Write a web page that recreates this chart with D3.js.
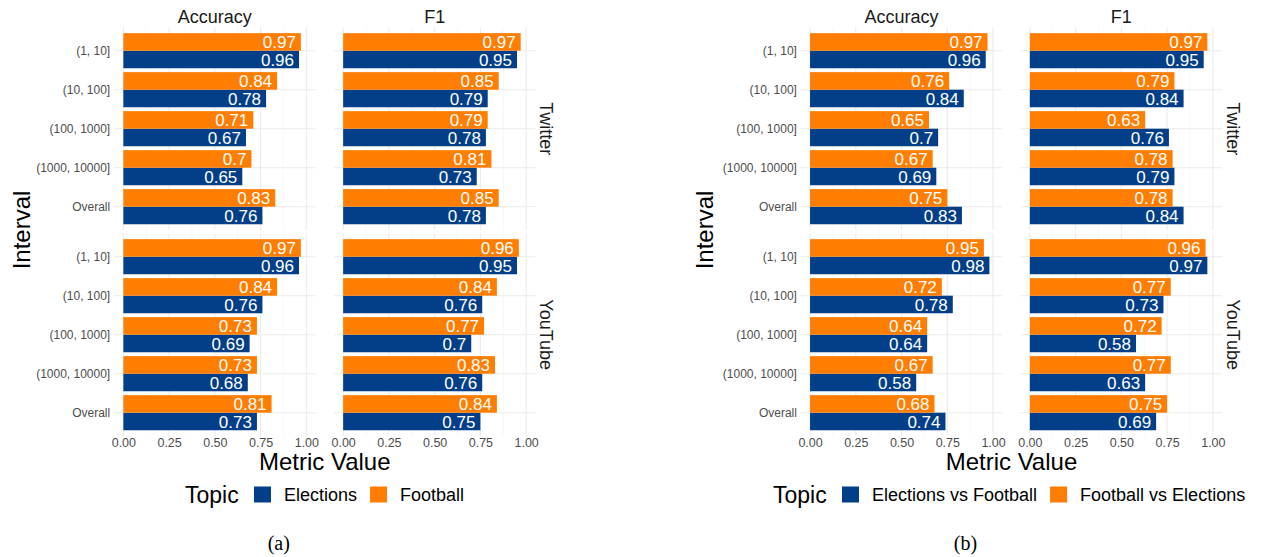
<!DOCTYPE html>
<html>
<head>
<meta charset="utf-8">
<script src="https://cdn.jsdelivr.net/npm/d3@7"></script>
<style>
  body { margin: 0; background: #fff; }
  text { font-family: "Liberation Sans", Arial, sans-serif; }
</style>
</head>
<body>
<div id="my_dataviz"></div>
<script>
// data
var intervals = ["(1, 10]", "(10, 100]", "(100, 1000]", "(1000, 10000]", "Overall"];
var metrics = ["Accuracy", "F1"];
var platforms = ["Twitter", "YouTube"];
var xTicks = [0, 0.25, 0.5, 0.75, 1];

// (a)
var topicsA = ["Elections", "Football"];
var a_twitter_acc_elections = [0.96, 0.78, 0.67, 0.65, 0.76];
var a_twitter_acc_football  = [0.97, 0.84, 0.71, 0.70, 0.83];
var a_twitter_f1_elections  = [0.95, 0.79, 0.78, 0.73, 0.78];
var a_twitter_f1_football   = [0.97, 0.85, 0.79, 0.81, 0.85];
var a_youtube_acc_elections = [0.96, 0.76, 0.69, 0.68, 0.73];
var a_youtube_acc_football  = [0.97, 0.84, 0.73, 0.73, 0.81];
var a_youtube_f1_elections  = [0.95, 0.76, 0.70, 0.76, 0.75];
var a_youtube_f1_football   = [0.96, 0.84, 0.77, 0.83, 0.84];

// (b)
var topicsB = ["Elections vs Football", "Football vs Elections"];
var b_twitter_acc_evf = [0.96, 0.84, 0.70, 0.69, 0.83];
var b_twitter_acc_fve = [0.97, 0.76, 0.65, 0.67, 0.75];
var b_twitter_f1_evf  = [0.95, 0.84, 0.76, 0.79, 0.84];
var b_twitter_f1_fve  = [0.97, 0.79, 0.63, 0.78, 0.78];
var b_youtube_acc_evf = [0.98, 0.78, 0.64, 0.58, 0.74];
var b_youtube_acc_fve = [0.95, 0.72, 0.64, 0.67, 0.68];
var b_youtube_f1_evf  = [0.97, 0.73, 0.58, 0.63, 0.69];
var b_youtube_f1_fve  = [0.96, 0.77, 0.72, 0.77, 0.75];

var blue = "#033f88", orange = "#ff7d00";
var W = 1263, H = 557;

var svg = d3.select("#my_dataviz").append("svg")
  .attr("width", W).attr("height", H);

// facet table: [platform][metric] -> [first topic values, second topic values]
var dataA = {
  Twitter: { Accuracy: [a_twitter_acc_elections, a_twitter_acc_football], F1: [a_twitter_f1_elections, a_twitter_f1_football] },
  YouTube: { Accuracy: [a_youtube_acc_elections, a_youtube_acc_football], F1: [a_youtube_f1_elections, a_youtube_f1_football] }
};
var dataB = {
  Twitter: { Accuracy: [b_twitter_acc_evf, b_twitter_acc_fve], F1: [b_twitter_f1_evf, b_twitter_f1_fve] },
  YouTube: { Accuracy: [b_youtube_acc_evf, b_youtube_acc_fve], F1: [b_youtube_f1_evf, b_youtube_f1_fve] }
};

drawFigure({ left: 114.2, topics: topicsA, data: dataA, ytitleX: 30, legendX: 185, caption: "(a)" });
drawFigure({ left: 800.9, topics: topicsB, data: dataB, ytitleX: 713, legendX: 773, caption: "(b)" });

function drawFigure(o) {
  var unit = 183;                  // px per 1.0
  var pw = unit * 1.1;             // panel width incl. 5% expand each side
  var gapX = 18.5;
  var step = 39;
  var ph = step * 5.2;
  var panelTops = { Twitter: 27.3, YouTube: 233.3 };
  var g = svg.append("g");

  metrics.forEach(function (m, mi) {
    var px = o.left + mi * (pw + gapX);
    var x = d3.scaleLinear().domain([-0.05, 1.05]).range([px, px + pw]);

    // strip top
    g.append("text")
      .attr("x", px + pw / 2).attr("y", 23)
      .attr("text-anchor", "middle")
      .style("font-size", "18px").style("fill", "#1a1a1a")
      .text(m);

    platforms.forEach(function (p, pi) {
      var top = panelTops[p];
      var y = d3.scaleBand().domain(intervals)
        .range([top + 0.1 * step, top + ph - 0.1 * step])
        .paddingInner(0.1).paddingOuter(0.05);
      // upper bar = second topic (orange), lower bar = first topic (blue)
      var yIn = d3.scaleBand().domain([o.topics[1], o.topics[0]]).range([0, y.bandwidth()]);

      // grid
      var minor = [0.125, 0.375, 0.625, 0.875];
      g.selectAll(null).data(minor).enter().append("line")
        .attr("x1", d => x(d)).attr("x2", d => x(d))
        .attr("y1", top).attr("y2", top + ph)
        .attr("stroke", "#f2f2f2").attr("stroke-width", 0.6);
      g.selectAll(null).data(xTicks).enter().append("line")
        .attr("x1", d => x(d)).attr("x2", d => x(d))
        .attr("y1", top).attr("y2", top + ph)
        .attr("stroke", "#ebebeb").attr("stroke-width", 1.1);
      g.selectAll(null).data(intervals).enter().append("line")
        .attr("x1", px).attr("x2", px + pw)
        .attr("y1", d => y(d) + y.bandwidth() / 2).attr("y2", d => y(d) + y.bandwidth() / 2)
        .attr("stroke", "#ebebeb").attr("stroke-width", 1.1);

      var vals = o.data[p][m];
      o.topics.forEach(function (t, ti) {
        var col = ti === 0 ? blue : orange;
        var rows = intervals.map(function (c, i) { return { c: c, v: vals[ti][i] }; });
        g.selectAll(null).data(rows).enter().append("rect")
          .attr("x", x(0))
          .attr("y", d => y(d.c) + yIn(t))
          .attr("width", d => x(d.v) - x(0))
          .attr("height", yIn.bandwidth())
          .attr("fill", col);
        g.selectAll(null).data(rows).enter().append("text")
          .attr("x", d => x(d.v) - 5)
          .attr("y", d => y(d.c) + yIn(t) + yIn.bandwidth() / 2)
          .attr("dy", "0.36em")
          .attr("text-anchor", "end")
          .style("font-size", "17px").style("fill", "#fff")
          .text(d => String(+d.v.toFixed(2)));
      });

      // y axis labels only on first column
      if (mi === 0) {
        var ya = g.append("g").attr("transform", "translate(" + px + ",0)")
          .call(d3.axisLeft(y).tickSize(0).tickPadding(4));
        ya.select(".domain").remove();
        ya.selectAll("text").style("font-size", "12px").style("fill", "#4d4d4d")
          .style("font-family", "Liberation Sans, Arial, sans-serif");
      }

      // strip right
      if (mi === 1) {
        g.append("text")
          .attr("transform", "translate(" + (px + pw + 5) + "," + (top + ph / 2) + ") rotate(90)")
          .attr("text-anchor", "middle")
          .style("font-size", "18px").style("fill", "#1a1a1a")
          .text(p);
      }

      // x axis on bottom row
      if (pi === 1) {
        var xa = g.append("g").attr("transform", "translate(0," + (top + ph) + ")")
          .call(d3.axisBottom(x).tickValues(xTicks).tickFormat(d3.format(".2f")).tickSize(0).tickPadding(2));
        xa.select(".domain").remove();
        xa.selectAll("text").style("font-size", "12.5px").style("fill", "#4d4d4d")
          .style("font-family", "Liberation Sans, Arial, sans-serif");
      }
    });
  });

  var mid = o.left + pw + gapX / 2;
  g.append("text").attr("x", mid).attr("y", 470)
    .attr("text-anchor", "middle").style("font-size", "24px").style("fill", "#000")
    .text("Metric Value");

  g.append("text")
    .attr("transform", "translate(" + o.ytitleX + "," + 230 + ") rotate(-90)")
    .attr("text-anchor", "middle").style("font-size", "24px").style("fill", "#000")
    .text("Interval");

  // legend
  var lg = g.append("g").attr("transform", "translate(" + o.legendX + ",494)");
  lg.append("text").attr("x", 0).attr("y", 8.5)
    .style("font-size", "23px").style("fill", "#000").text("Topic");
  var cx = 69;
  o.topics.forEach(function (t, ti) {
    lg.append("rect").attr("x", cx).attr("y", -7.5).attr("width", 17).attr("height", 16)
      .attr("fill", ti === 0 ? blue : orange);
    var lt = lg.append("text").attr("x", cx + 30).attr("y", 6.5)
      .style("font-size", "18px").style("fill", "#000").text(t);
    cx = cx + 30 + lt.node().getComputedTextLength() + 13;
  });

  g.append("text").attr("x", mid - 46).attr("y", 550)
    .attr("text-anchor", "middle")
    .style("font-family", "Liberation Serif, Times New Roman, serif")
    .style("font-size", "20px").style("fill", "#000")
    .text(o.caption);
}
</script>
</body>
</html>
